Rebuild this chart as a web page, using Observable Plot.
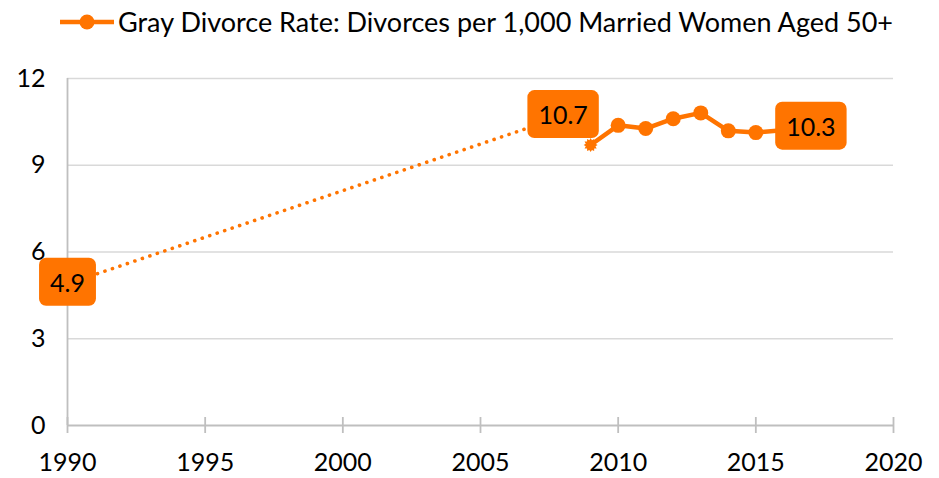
<!DOCTYPE html>
<html>
<head>
<meta charset="utf-8">
<script src="https://cdn.jsdelivr.net/npm/d3@7"></script>
<script src="https://cdn.jsdelivr.net/npm/@observablehq/plot@0.6"></script>
<style>
  html, body { margin: 0; padding: 0; background: #fff; }
  #wrap { position: relative; width: 939px; height: 478px; font-family: Lato, "Open Sans", sans-serif; }
  #legend { position: absolute; top: 5px; left: 60px; display: flex; align-items: center; font-size: 27px; color: #000; white-space: nowrap; }
  #legend svg { margin-right: 4px; }
</style>
</head>
<body>
<div id="wrap">
  <div id="legend">
    <svg width="54" height="24"><line x1="0" y1="12" x2="54" y2="12" stroke="#FF7400" stroke-width="4.5"/><circle cx="27" cy="12" r="7.5" fill="#FF7400"/></svg>
    <span>Gray Divorce Rate: Divorces per 1,000 Married Women Aged 50+</span>
  </div>
</div>
<script>
// Data
const years = [2009, 2010, 2011, 2012, 2013, 2014, 2015, 2017];
const rates = [9.7, 10.38, 10.27, 10.61, 10.81, 10.19, 10.13, 10.3];
const trendYears = [1990, 2008];
const trendRates = [4.9, 10.7];
const labelYears = [1990, 2008, 2017];
const labelRates = [4.9, 10.7, 10.3];
const labelTexts = ["4.9", "10.7", "10.3"];
const xTicks = [1990, 1995, 2000, 2005, 2010, 2015, 2020];
const yTicks = [0, 3, 6, 9, 12];

const ORANGE = "#FF7400";
const series = years.map((y, i) => ({year: y, rate: rates[i]}));
const trend = trendYears.map((y, i) => ({year: y, rate: trendRates[i]}));
const labels = labelYears.map((y, i) => ({year: y, rate: labelRates[i], text: labelTexts[i]}));

// starburst symbol for the 2009 marker
const burst = {
  draw(ctx, size) {
    const r = Math.sqrt(size / Math.PI);
    const n = 12;
    for (let i = 0; i < 2 * n; i++) {
      const a = (i / (2 * n)) * 2 * Math.PI;
      const rr = i % 2 ? r * 0.72 : r;
      const px = rr * Math.cos(a), py = rr * Math.sin(a);
      if (i === 0) ctx.moveTo(px, py); else ctx.lineTo(px, py);
    }
    ctx.closePath();
  }
};

const chart = Plot.plot({
  width: 939,
  height: 478,
  marginLeft: 67,
  marginRight: 46,
  marginTop: 78,
  marginBottom: 53,
  style: {fontFamily: "Lato, 'Open Sans', sans-serif", fontSize: "25px", color: "#000", background: "transparent"},
  x: {domain: [1990, 2020], axis: null},
  y: {domain: [0, 12], axis: null},
  marks: [
    Plot.ruleY(yTicks.filter(d => d > 0), {stroke: "#d9d9d9", strokeWidth: 1.6}),
    Plot.ruleY([0], {stroke: "#bfbfbf", strokeWidth: 1.8}),
    Plot.ruleX([1990], {stroke: "#bfbfbf", strokeWidth: 1.8}),
    Plot.tickX(xTicks, {x: d => d, stroke: "#bfbfbf", strokeWidth: 1.8, insetTop: 339, insetBottom: -8}),
    Plot.axisY({ticks: yTicks, tickSize: 0, tickPadding: 22, fontSize: 25, fill: "#000", label: null}),
    Plot.axisX({ticks: xTicks, tickFormat: d => String(d), tickSize: 0, tickPadding: 28, fontSize: 25, fill: "#000", label: null}),
    Plot.line(trend, {x: "year", y: "rate", stroke: ORANGE, strokeWidth: 3.6, strokeLinecap: "round", strokeDasharray: "0.1 7.8"}),
    Plot.line(series, {x: "year", y: "rate", stroke: ORANGE, strokeWidth: 4.5}),
    Plot.dot(series.slice(1), {x: "year", y: "rate", r: 7.5, fill: ORANGE}),
    Plot.dot(series.slice(0, 1), {x: "year", y: "rate", r: 7, fill: ORANGE, symbol: burst}),
    Plot.text(labels, {x: "year", y: "rate", text: "text", fontSize: 25, fill: "#000", textAnchor: "middle", lineAnchor: "middle"})
  ]
});

document.getElementById("wrap").appendChild(chart);

// rounded boxes behind the data labels
const labelNodes = Array.from(chart.querySelectorAll("text")).filter(t =>
  labelTexts.includes(t.textContent) && !t.closest('g[aria-label*="axis"]'));
labelNodes.forEach(t => {
  const bb = t.getBBox();
  const cx = bb.x + bb.width / 2, cy = bb.y + bb.height / 2;
  const w = bb.width + 22, h = 48;
  const tr = t.getAttribute("transform");
  const rect = document.createElementNS("http://www.w3.org/2000/svg", "rect");
  rect.setAttribute("x", cx - w / 2);
  rect.setAttribute("y", cy - h / 2);
  rect.setAttribute("width", w);
  rect.setAttribute("height", h);
  rect.setAttribute("rx", 7);
  rect.setAttribute("fill", ORANGE);
  if (tr) rect.setAttribute("transform", tr);
  t.parentNode.insertBefore(rect, t);
});
</script>
</body>
</html>
